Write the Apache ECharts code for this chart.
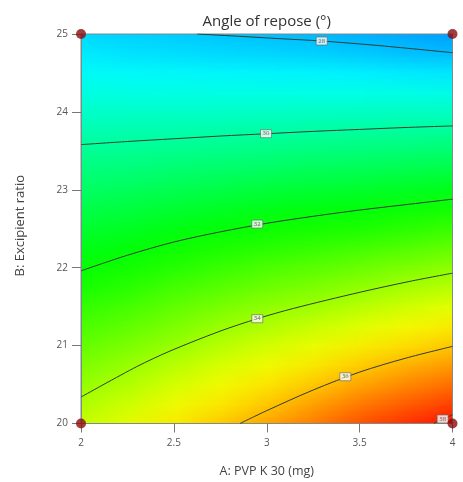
<!DOCTYPE html>
<html>
<head>
<meta charset="utf-8">
<script src="https://cdn.jsdelivr.net/npm/echarts@6/dist/echarts.min.js"></script>
<style>
  html, body { margin: 0; padding: 0; background: #fff; }
  #stage { position: relative; width: 463px; height: 482px; overflow: hidden; }
  #clip { position: absolute; overflow: hidden; }
  #field { position: absolute; transform-origin: 0 0; }
  #chart { position: absolute; left: 0; top: 0; width: 463px; height: 482px; }
</style>
</head>
<body>
<div id="stage">
  <div id="clip"><div id="field"></div></div>
  <div id="chart"></div>
</div>
<script>
// Factor levels of the response surface grid
const pvpLevels = [2, 2.25, 2.5, 2.75, 3, 3.25, 3.5, 3.75, 4];
const ratioLevels = [20, 20.25, 20.5, 20.75, 21, 21.25, 21.5, 21.75, 22, 22.25, 22.5,
                     22.75, 23, 23.25, 23.5, 23.75, 24, 24.25, 24.5, 24.75, 25];

// Predicted angle of repose (°), one row per excipient ratio, columns follow pvpLevels
const angleSurface = [
  [34.42, 34.84, 35.35, 35.81, 36.28, 36.80, 37.37, 37.74, 38.25],
  [34.11, 34.50, 34.99, 35.43, 35.87, 36.33, 36.86, 37.22, 37.68],
  [33.80, 34.17, 34.63, 35.05, 35.46, 35.87, 36.35, 36.69, 37.11],
  [33.49, 33.84, 34.27, 34.66, 35.05, 35.41, 35.84, 36.17, 36.54],
  [33.19, 33.51, 33.91, 34.28, 34.64, 34.95, 35.34, 35.65, 35.98],
  [32.88, 33.18, 33.55, 33.89, 34.23, 34.50, 34.84, 35.14, 35.45],
  [32.57, 32.85, 33.19, 33.50, 33.82, 34.04, 34.34, 34.63, 34.92],
  [32.26, 32.52, 32.83, 33.12, 33.40, 33.60, 33.85, 34.12, 34.38],
  [31.95, 32.19, 32.47, 32.73, 32.97, 33.16, 33.37, 33.61, 33.85],
  [31.64, 31.85, 32.12, 32.34, 32.55, 32.72, 32.90, 33.10, 33.33],
  [31.33, 31.51, 31.74, 31.95, 32.13, 32.28, 32.42, 32.59, 32.80],
  [31.03, 31.18, 31.37, 31.54, 31.70, 31.84, 31.94, 32.08, 32.27],
  [30.72, 30.84, 30.99, 31.13, 31.27, 31.38, 31.47, 31.58, 31.75],
  [30.41, 30.50, 30.61, 30.72, 30.83, 30.93, 31.00, 31.09, 31.21],
  [30.10, 30.16, 30.23, 30.31, 30.40, 30.47, 30.53, 30.59, 30.68],
  [29.79, 29.82, 29.86, 29.91, 29.97, 30.02, 30.06, 30.10, 30.15],
  [29.48, 29.49, 29.51, 29.52, 29.56, 29.58, 29.60, 29.61, 29.62],
  [29.17, 29.15, 29.15, 29.14, 29.15, 29.15, 29.14, 29.12, 29.09],
  [28.86, 28.81, 28.79, 28.75, 28.74, 28.72, 28.68, 28.63, 28.55],
  [28.56, 28.47, 28.43, 28.36, 28.33, 28.29, 28.22, 28.14, 28.02],
  [28.25, 28.14, 28.08, 27.98, 27.92, 27.85, 27.76, 27.65, 27.49]
];

// Contour lines of the angle of repose, as [PVP K 30, excipient ratio] pairs
const contour28 = [[2.625, 25.0], [2.856, 24.97], [3.071, 24.94], [3.296, 24.91], [3.61, 24.85], [4, 24.76]];
const contour30 = [[2, 23.58], [2.25, 23.62], [2.5, 23.655], [2.75, 23.69], [3.0, 23.72], [3.25, 23.75], [3.5, 23.775], [3.75, 23.80], [4, 23.82]];
const contour32 = [[2, 21.96], [2.25, 22.16], [2.5, 22.33], [2.75, 22.46], [3.0, 22.57], [3.25, 22.66], [3.5, 22.74], [3.75, 22.81], [4, 22.88]];
const contour34 = [[2, 20.34], [2.3, 20.73], [2.479, 20.93], [2.748, 21.185], [2.949, 21.345], [3.143, 21.477], [3.502, 21.685], [3.771, 21.825], [4, 21.93]];
const contour36 = [[2.856, 20.0], [3.0, 20.165], [3.25, 20.43], [3.5, 20.66], [3.75, 20.84], [4, 20.99]];
const contour38 = [[3.9, 20.0], [3.947, 20.058], [4, 20.11]];

// Contour value tags: [PVP K 30, excipient ratio, level]
const contourTags = [
  [3.296, 24.91, 28], [2.996, 23.72, 30], [2.949, 22.56, 32],
  [2.949, 21.345, 34], [3.423, 20.60, 36], [3.947, 20.058, 38]
];

// Design points
const designPoints = [[2, 20], [2, 25], [4, 20], [4, 25]];

// Axis ticks
const pvpTicks = [2, 2.5, 3, 3.5, 4];
const ratioTicks = [20, 21, 22, 23, 24, 25];

// Plot area geometry (px)
const PLOT = { left: 81, top: 34, width: 371.5, height: 389.5 };
const W = 463, H = 482;
const FONT = "'Segoe UI', 'Open Sans', 'Noto Sans', sans-serif";

// ---- Colour field: one pixel per grid node, smoothly scaled over the plot area ----
const nA = pvpLevels.length, nB = ratioLevels.length;
const sx = PLOT.width / (nA - 1), sy = PLOT.height / (nB - 1);
const clip = document.getElementById('clip');
clip.style.left = PLOT.left + 'px';
clip.style.top = PLOT.top + 'px';
clip.style.width = PLOT.width + 'px';
clip.style.height = PLOT.height + 'px';
const field = document.getElementById('field');
field.style.width = nA + 'px';
field.style.height = nB + 'px';
field.style.left = (-sx / 2) + 'px';
field.style.top = (-sy / 2) + 'px';
field.style.transform = 'scale(' + sx + ',' + sy + ')';

const heatData = [];
angleSurface.forEach((row, j) => row.forEach((v, i) => heatData.push([i, j, v])));

const fieldChart = echarts.init(field, null, { renderer: 'canvas', devicePixelRatio: 1, width: nA, height: nB });
fieldChart.setOption({
  animation: false,
  grid: { left: 0, right: 0, top: 0, bottom: 0, containLabel: false },
  xAxis: { type: 'category', data: pvpLevels.map(String), show: false },
  yAxis: { type: 'category', data: ratioLevels.map(String), show: false },
  visualMap: {
    show: false, min: 25.5, max: 38.3, dimension: 2,
    inRange: { color: ['#0000ff', '#00ffff', '#00ff00', '#ffff00', '#ff0000'] }
  },
  series: [{
    type: 'heatmap', data: heatData, silent: true,
    itemStyle: { borderWidth: 0 }, emphasis: { disabled: true }
  }]
});

// ---- Axes, contours, tags and design points ----
const contourStyle = { color: '#2e3d33', width: 1 };
function contourSeries(points) {
  return {
    type: 'line', data: points, smooth: 0.3, showSymbol: false, silent: true,
    lineStyle: contourStyle, z: 3
  };
}

const chart = echarts.init(document.getElementById('chart'), null, { renderer: 'canvas', devicePixelRatio: 1 });
chart.setOption({
  animation: false,
  backgroundColor: 'transparent',
  textStyle: { fontFamily: FONT },
  grid: {
    left: PLOT.left, top: PLOT.top,
    right: W - PLOT.left - PLOT.width, bottom: H - PLOT.top - PLOT.height,
    containLabel: false, show: true, borderColor: '#7f8a8a', borderWidth: 1,
    backgroundColor: 'transparent'
  },
  xAxis: {
    type: 'value', min: pvpTicks[0], max: pvpTicks[pvpTicks.length - 1], interval: 0.5,
    axisLine: { show: true, lineStyle: { color: '#7f8a8a', width: 1 } },
    axisTick: { show: true, length: 9, lineStyle: { color: '#777' } },
    axisLabel: { fontSize: 10, color: '#555', margin: 15, fontFamily: FONT, formatter: v => String(v) },
    splitLine: { show: false }
  },
  yAxis: {
    type: 'value', min: ratioTicks[0], max: ratioTicks[ratioTicks.length - 1], interval: 1,
    axisLine: { show: true, lineStyle: { color: '#7f8a8a', width: 1 } },
    axisTick: { show: true, length: 9, lineStyle: { color: '#777' } },
    axisLabel: { fontSize: 10, color: '#555', margin: 13, fontFamily: FONT },
    splitLine: { show: false }
  },
  graphic: [
    {
      type: 'text', x: PLOT.left + PLOT.width / 2, y: 22, silent: true,
      style: { text: 'Angle of repose (°)', fontSize: 15, fill: '#333', fontFamily: FONT,
               align: 'center', verticalAlign: 'middle' }
    },
    {
      type: 'text', x: PLOT.left + PLOT.width / 2, y: 471, silent: true,
      style: { text: 'A: PVP K 30 (mg)', fontSize: 12.5, fill: '#444', fontFamily: FONT,
               align: 'center', verticalAlign: 'middle' }
    },
    {
      type: 'text', x: 20.5, y: PLOT.top + PLOT.height / 2 - 3, rotation: Math.PI / 2, silent: true,
      style: { text: 'B: Excipient ratio', fontSize: 13, fill: '#444', fontFamily: FONT,
               align: 'center', verticalAlign: 'middle' }
    }
  ],
  series: [
    contourSeries(contour28),
    contourSeries(contour30),
    contourSeries(contour32),
    contourSeries(contour34),
    contourSeries(contour36),
    contourSeries(contour38),
    {
      type: 'scatter', data: contourTags, symbol: 'rect', symbolSize: [11, 8], silent: true, z: 5,
      itemStyle: { color: '#ffffff', borderColor: '#666', borderWidth: 0.8 },
      label: { show: true, position: 'inside', fontSize: 6, color: '#444', fontFamily: FONT,
               formatter: p => String(p.value[2]) }
    },
    {
      type: 'scatter', data: designPoints, symbolSize: 10, clip: false, silent: true, z: 6,
      itemStyle: { color: '#8b0d0d' }
    }
  ]
});
</script>
</body>
</html>
